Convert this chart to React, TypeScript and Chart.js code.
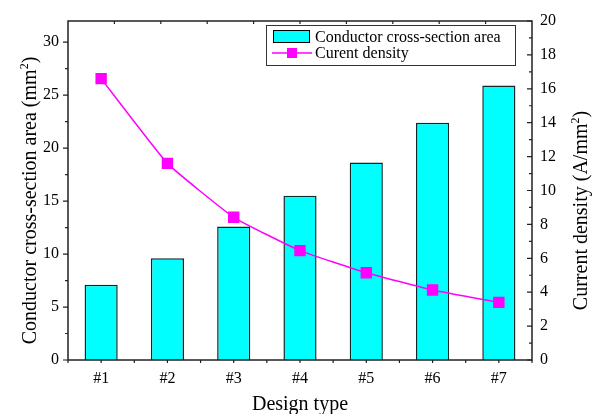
import React, { useEffect, useRef } from 'react';
import { Chart, registerables } from 'chart.js';

Chart.register(...registerables);

const categories = ['#1', '#2', '#3', '#4', '#5', '#6', '#7'];
const areaValues = [7.1, 9.6, 12.6, 15.5, 18.65, 22.4, 25.9];
const densityValues = [16.6, 11.6, 8.42, 6.45, 5.15, 4.13, 3.4];
const leftTickValues = [0, 5, 10, 15, 20, 25, 30];
const rightTickValues = [0, 2, 4, 6, 8, 10, 12, 14, 16, 18, 20];

const areaLabel = 'Conductor cross-section area';
const densityLabel = 'Curent density';
const xTitle = 'Design type';
const leftTitle = ['Conductor cross-section area (mm', '2', ')'];
const rightTitle = ['Current density (A/mm', '2', ')'];

const FONT = '"Liberation Serif", "Times New Roman", serif';
const CYAN = '#00FFFF';
const MAGENTA = '#FF00FF';
const AXIS = '#222222';

function drawSupText(ctx: CanvasRenderingContext2D, parts: string[], size: number) {
  const main = `${size}px ${FONT}`;
  const sup = `${Math.round(size * 0.62)}px ${FONT}`;
  ctx.font = main;
  const w0 = ctx.measureText(parts[0]).width;
  const w2 = ctx.measureText(parts[2]).width;
  ctx.font = sup;
  const w1 = ctx.measureText(parts[1]).width;
  const total = w0 + w1 + w2;
  let x = -total / 2;
  ctx.textAlign = 'left';
  ctx.textBaseline = 'alphabetic';
  ctx.font = main;
  ctx.fillText(parts[0], x, 0);
  x += w0;
  ctx.font = sup;
  ctx.fillText(parts[1], x, -size * 0.42);
  x += w1;
  ctx.font = main;
  ctx.fillText(parts[2], x, 0);
}

const decorPlugin = {
  id: 'decor',
  afterDraw(chart: any) {
    const ctx: CanvasRenderingContext2D = chart.ctx;
    const { left, right, top, bottom } = chart.chartArea;
    const yL = chart.scales.y;
    const yR = chart.scales.y1;
    ctx.save();
    // frame
    ctx.strokeStyle = AXIS;
    ctx.lineWidth = 1.5;
    ctx.strokeRect(left, top, right - left, bottom - top);
    ctx.lineWidth = 1.2;
    ctx.beginPath();
    for (let v = 0; v <= 32; v += 2.5) {
      const y = yL.getPixelForValue(v);
      const len = v % 5 === 0 ? 5 : 3;
      ctx.moveTo(left, y);
      ctx.lineTo(left - len, y);
    }
    for (let v = 0; v <= 20; v += 1) {
      const y = yR.getPixelForValue(v);
      const len = v % 2 === 0 ? 5 : 3;
      ctx.moveTo(right, y);
      ctx.lineTo(right - len, y);
    }
    const n = categories.length;
    for (let i = 0; i <= 2 * n; i++) {
      const x = left + ((right - left) * i) / (2 * n);
      ctx.moveTo(x, bottom);
      ctx.lineTo(x, bottom + 3);
    }
    for (let i = 1; i < 10; i++) {
      const x = left + ((right - left) * i) / 10;
      ctx.moveTo(x, top);
      ctx.lineTo(x, top + 3);
    }
    ctx.stroke();

    // axis titles
    ctx.fillStyle = '#000';
    ctx.font = `20px ${FONT}`;
    ctx.textAlign = 'center';
    ctx.textBaseline = 'alphabetic';
    ctx.fillText(xTitle, (left + right) / 2, 410);

    ctx.save();
    ctx.translate(36, (top + bottom) / 2 + 10);
    ctx.rotate(-Math.PI / 2);
    drawSupText(ctx, leftTitle, 20);
    ctx.restore();

    ctx.save();
    ctx.translate(587, (top + bottom) / 2 + 20);
    ctx.rotate(-Math.PI / 2);
    drawSupText(ctx, rightTitle, 20);
    ctx.restore();

    // legend
    const lx = 266, ly = 25, lw = 249, lh = 40;
    ctx.fillStyle = '#fff';
    ctx.fillRect(lx, ly, lw, lh);
    ctx.strokeStyle = '#333';
    ctx.lineWidth = 1;
    ctx.strokeRect(lx + 0.5, ly + 0.5, lw, lh);
    ctx.fillStyle = CYAN;
    ctx.fillRect(273, 30, 37, 13);
    ctx.strokeStyle = '#000';
    ctx.strokeRect(273.5, 30.5, 36, 12);
    ctx.strokeStyle = MAGENTA;
    ctx.lineWidth = 1.5;
    ctx.beginPath();
    ctx.moveTo(272, 53);
    ctx.lineTo(312, 53);
    ctx.stroke();
    ctx.fillStyle = MAGENTA;
    ctx.fillRect(287, 48, 10, 10);
    ctx.fillStyle = '#000';
    ctx.font = `16px ${FONT}`;
    ctx.textAlign = 'left';
    ctx.textBaseline = 'alphabetic';
    ctx.fillText(areaLabel, 315, 42);
    ctx.fillText(densityLabel, 315, 58);
    ctx.restore();
  },
};

export default function App() {
  const ref = useRef<HTMLCanvasElement | null>(null);
  useEffect(() => {
    if (!ref.current) return;
    const chart = new Chart(ref.current, {
      type: 'bar',
      data: {
        labels: categories,
        datasets: [
          {
            type: 'line',
            label: densityLabel,
            data: densityValues,
            yAxisID: 'y1',
            borderColor: MAGENTA,
            backgroundColor: MAGENTA,
            borderWidth: 1.5,
            pointStyle: 'rect',
            pointRadius: 7,
            pointBackgroundColor: MAGENTA,
            pointBorderColor: MAGENTA,
            tension: 0.12,
            order: 0,
          } as any,
          {
            type: 'bar',
            label: areaLabel,
            data: areaValues,
            yAxisID: 'y',
            backgroundColor: CYAN,
            borderColor: '#102828',
            borderWidth: 1.5,
            barPercentage: 0.5,
            categoryPercentage: 1,
            order: 1,
          } as any,
        ],
      },
      options: {
        responsive: false,
        animation: false,
        layout: { padding: { top: 21, left: 0, right: 0, bottom: 0 } },
        plugins: { legend: { display: false }, tooltip: { enabled: false } },
        scales: {
          x: {
            type: 'category',
            offset: true,
            grid: { display: false },
            border: { display: false },
            ticks: { color: '#000', font: { family: FONT, size: 16 }, padding: 1, maxRotation: 0 },
            afterFit: (s: any) => { s.height = 54; },
          },
          y: {
            position: 'left',
            min: 0,
            max: 32,
            grid: { display: false },
            border: { display: false },
            ticks: { color: '#000', font: { family: FONT, size: 16 }, padding: 1 },
            afterBuildTicks: (s: any) => { s.ticks = leftTickValues.map((v) => ({ value: v })); },
            afterFit: (s: any) => { s.width = 68; },
          },
          y1: {
            position: 'right',
            min: 0,
            max: 20,
            grid: { display: false },
            border: { display: false },
            ticks: { color: '#000', font: { family: FONT, size: 16 }, padding: 0 },
            afterBuildTicks: (s: any) => { s.ticks = rightTickValues.map((v) => ({ value: v })); },
            afterFit: (s: any) => { s.width = 66; },
          },
        },
      },
      plugins: [decorPlugin],
    });
    return () => chart.destroy();
  }, []);
  return (
    <div style={{ position: 'absolute', left: 0, top: 0, width: 598, height: 414, background: '#fff' }}>
      <canvas ref={ref} width={598} height={414} style={{ display: 'block' }} />
    </div>
  );
}
